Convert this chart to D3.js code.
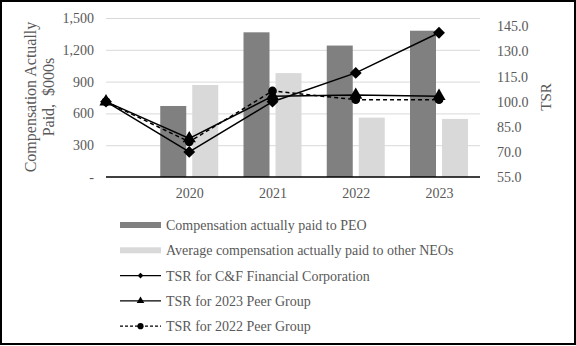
<!DOCTYPE html>
<html lang="en">
<head>
<meta charset="UTF-8">
<title>Compensation Actually Paid vs TSR</title>
<style>
  body { margin:0; background:#fff; }
  svg { display:block; font-family:"Liberation Serif", "Times New Roman", serif; }
  text { fill:#595959; }
</style>
</head>
<body>
<svg width="576" height="346"></svg>
<script src="https://cdnjs.cloudflare.com/ajax/libs/d3/7.8.5/d3.min.js"></script>
<script>
// data
const years = ["", "2020", "2021", "2022", "2023"]
const peoPaid = [null, 670, 1365, 1240, 1380]
const neoPaid = [null, 868, 980, 560, 548]
const tsrCF = [100, 70, 100, 117.2, 141.2]
const tsrPeer2023 = [100, 78, 103.3, 104, 103.3]
const tsrPeer2022 = [100, 76, 106.4, 101.2, 101.2]
const leftTicks = [0, 300, 600, 900, 1200, 1500]
const rightTicks = [55, 70, 85, 100, 115, 130, 145]

const svg = d3.select("svg")

// outer frame
svg.append("rect")
  .attr("x", 1).attr("y", 1).attr("width", 574).attr("height", 343)
  .attr("fill", "none").attr("stroke", "#000").attr("stroke-width", 2)

const plotL = 106, plotR = 480, plotT = 18, plotB = 177

const x = d3.scalePoint().domain(years).range([plotL, 439])
const inner = d3.scaleBand().domain(["peo", "neo"]).range([-29, 29]).paddingInner(0.1875)
const yL = d3.scaleLinear().domain([0, 1500]).range([plotB, plotT])
const yR = d3.scaleLinear().domain([55, 150]).range([plotB, plotT])

// gridlines
svg.append("g")
  .attr("transform", `translate(${plotL},0)`)
  .call(d3.axisLeft(yL).tickValues(leftTicks.slice(1)).tickSize(-(plotR - plotL)).tickFormat(""))
  .call(g => g.select(".domain").remove())
  .call(g => g.selectAll("line").attr("stroke", "#d9d9d9").attr("stroke-width", 1))

// left axis labels
svg.append("g")
  .attr("transform", `translate(${plotL},0)`)
  .call(d3.axisLeft(yL).tickValues(leftTicks).tickSize(0).tickPadding(12)
    .tickFormat(d => d === 0 ? "-" : d3.format(",")(d)))
  .call(g => g.select(".domain").remove())
  .call(g => g.selectAll("text").attr("font-size", 14).style("font-family", "Liberation Serif").attr("fill", "#595959"))

// right axis labels
svg.append("g")
  .attr("transform", `translate(${plotR},0)`)
  .call(d3.axisRight(yR).tickValues(rightTicks).tickSize(0).tickPadding(17).tickFormat(d3.format(".1f")))
  .call(g => g.select(".domain").remove())
  .call(g => g.selectAll("text").attr("font-size", 14).style("font-family", "Liberation Serif").attr("fill", "#595959"))

// bars
const barData = []
years.forEach((yr, i) => {
  if (peoPaid[i] != null) barData.push({ yr, key: "peo", v: peoPaid[i] })
  if (neoPaid[i] != null) barData.push({ yr, key: "neo", v: neoPaid[i] })
})
const barColor = { peo: "#808080", neo: "#d9d9d9" }
svg.append("g").selectAll("rect").data(barData).join("rect")
  .attr("x", d => x(d.yr) + inner(d.key))
  .attr("y", d => yL(d.v))
  .attr("width", inner.bandwidth())
  .attr("height", d => plotB - yL(d.v))
  .attr("fill", d => barColor[d.key])

// x axis
const xAxis = svg.append("g")
  .attr("transform", `translate(0,${plotB})`)
  .call(d3.axisBottom(x).tickSize(0).tickPadding(11))
xAxis.select(".domain").remove()
xAxis.selectAll("text").attr("font-size", 14).style("font-family", "Liberation Serif").attr("fill", "#595959")
svg.append("line")
  .attr("x1", plotL).attr("x2", plotR).attr("y1", plotB).attr("y2", plotB)
  .attr("stroke", "#000").attr("stroke-width", 1.5)

// TSR lines; diamonds are squares turned 45 degrees
const line = d3.line().x((d, i) => x(years[i])).y(d => yR(d))
const series = [
  { vals: tsrPeer2022, dash: "4,3", sym: d3.symbolCircle, size: 60, rot: 0 },
  { vals: tsrPeer2023, dash: null, sym: d3.symbolTriangle, size: 75, rot: 0 },
  { vals: tsrCF, dash: null, sym: d3.symbolSquare, size: 70, rot: 45 }
]
series.forEach(s => {
  svg.append("path")
    .attr("d", line(s.vals))
    .attr("fill", "none").attr("stroke", "#000").attr("stroke-width", 1.5)
    .attr("stroke-dasharray", s.dash)
  svg.append("g").selectAll("path").data(s.vals).join("path")
    .attr("transform", (d, i) => `translate(${x(years[i])},${yR(d)}) rotate(${s.rot})`)
    .attr("d", d3.symbol().type(s.sym).size(s.size))
    .attr("fill", "#000")
})

// axis titles
svg.append("text")
  .attr("transform", "translate(36,97) rotate(-90)")
  .attr("text-anchor", "middle").attr("font-size", 16)
  .selectAll("tspan").data(["Compensation Actually", "Paid,  $000s"]).join("tspan")
  .attr("x", 0).attr("dy", (d, i) => i === 0 ? 0 : 18)
  .attr("xml:space", "preserve")
  .text(d => d)
svg.append("text")
  .attr("transform", "translate(551,97) rotate(-90)")
  .attr("text-anchor", "middle").attr("font-size", 15)
  .text("TSR")

// legend
const legendItems = [
  { label: "Compensation actually paid to PEO", type: "bar", color: "#808080" },
  { label: "Average compensation actually paid to other NEOs", type: "bar", color: "#d9d9d9" },
  { label: "TSR for C&F Financial Corporation", type: "line", sym: d3.symbolSquare, size: 16, rot: 45 },
  { label: "TSR for 2023 Peer Group", type: "line", sym: d3.symbolTriangle, size: 25, rot: 0 },
  { label: "TSR for 2022 Peer Group", type: "line", sym: d3.symbolCircle, size: 30, rot: 0, dash: "3,2" }
]
const lg = svg.append("g").selectAll("g").data(legendItems).join("g")
  .attr("transform", (d, i) => `translate(120,${225 + i * 25.3})`)
lg.filter(d => d.type === "bar").append("rect")
  .attr("x", 0).attr("y", -3).attr("width", 41).attr("height", 6)
  .attr("fill", d => d.color)
lg.filter(d => d.type === "line").append("line")
  .attr("x1", 0).attr("x2", 41).attr("y1", 0).attr("y2", 0)
  .attr("stroke", "#000").attr("stroke-width", 1.3)
  .attr("stroke-dasharray", d => d.dash || null)
lg.filter(d => d.type === "line").append("path")
  .attr("transform", d => `translate(20.5,0) rotate(${d.rot})`)
  .attr("d", d => d3.symbol().type(d.sym).size(d.size)())
  .attr("fill", "#000")
lg.append("text")
  .attr("x", 46).attr("dy", "0.35em").attr("font-size", 14)
  .text(d => d.label)
</script>
</body>
</html>
